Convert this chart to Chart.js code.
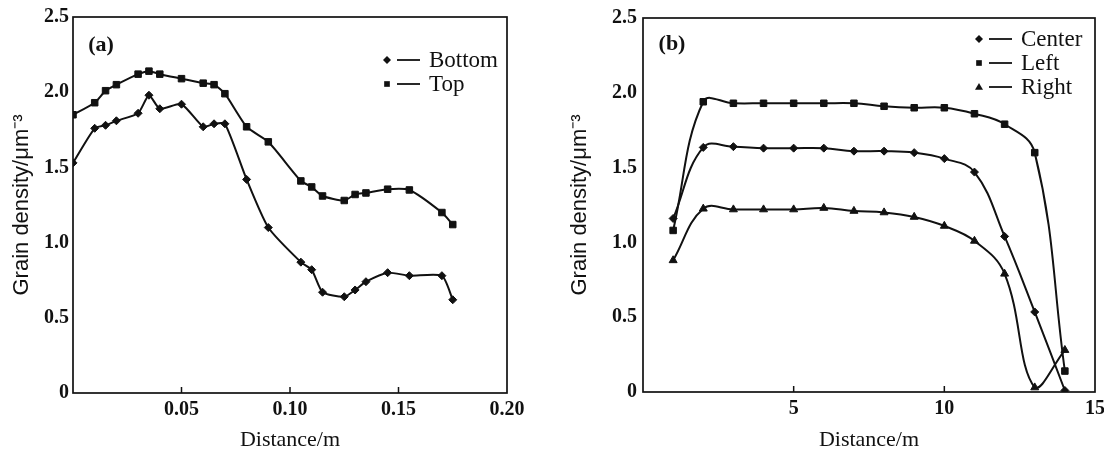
<!DOCTYPE html>
<html>
<head>
<meta charset="utf-8">
<script src="https://cdn.jsdelivr.net/npm/chart.js@4.4.1/dist/chart.umd.min.js"></script>
<style>
  html, body { margin: 0; padding: 0; background: #fff; overflow: hidden; }
  #wrap { position: relative; width: 1104px; height: 454px; overflow: hidden; }
  .panel { position: absolute; top: 0; height: 454px; }
  #panelA { left: 0; width: 550px; }
  #panelB { left: 550px; width: 560px; }
</style>
</head>
<body>
<div id="wrap">
  <div class="panel" id="panelA"><canvas id="chartA"></canvas></div>
  <div class="panel" id="panelB"><canvas id="chartB"></canvas></div>
</div>
<script>
// panel (a): distance along the sample, m
const distA = [0, 0.010, 0.015, 0.020, 0.030, 0.035, 0.040, 0.050, 0.060, 0.065, 0.070, 0.080,
  0.090, 0.105, 0.110, 0.115, 0.125, 0.130, 0.135, 0.145, 0.155, 0.170, 0.175];
const bottomA = [1.53, 1.76, 1.78, 1.81, 1.86, 1.98, 1.89, 1.92, 1.77, 1.79, 1.79, 1.42,
  1.10, 0.87, 0.82, 0.67, 0.64, 0.685, 0.74, 0.80, 0.78, 0.78, 0.62];
const topA = [1.85, 1.93, 2.01, 2.05, 2.12, 2.14, 2.12, 2.09, 2.06, 2.05, 1.99, 1.77,
  1.67, 1.41, 1.37, 1.31, 1.28, 1.32, 1.33, 1.355, 1.35, 1.20, 1.12];

// panel (b): distance, m
const distB = [1, 2, 3, 4, 5, 6, 7, 8, 9, 10, 11, 12, 13, 14];
const centerB = [1.16, 1.635, 1.64, 1.63, 1.63, 1.63, 1.61, 1.61, 1.60, 1.56, 1.47, 1.04, 0.535, 0.01];
const leftB = [1.08, 1.94, 1.93, 1.93, 1.93, 1.93, 1.93, 1.91, 1.90, 1.90, 1.86, 1.79, 1.60, 0.14];
const rightB = [0.88, 1.225, 1.22, 1.22, 1.22, 1.23, 1.21, 1.20, 1.17, 1.11, 1.01, 0.79, 0.03, 0.28];

const yTicks = [0, 0.5, 1.0, 1.5, 2.0, 2.5];
const xMarksA = [0.05, 0.10, 0.15];
const xMarksB = [5, 10];

const ink = '#111';
const serif = '"Liberation Serif", "Times New Roman", serif';
const sans = '"Liberation Sans", Arial, sans-serif';

const toPoints = (xs, ys) => xs.map((x, i) => ({ x: x, y: ys[i] }));

const markerSize = { rect: 4.6, rectRot: 4, triangle: 4.6 };

function series(label, xs, ys, style, tension) {
  return {
    label: label,
    data: toPoints(xs, ys),
    borderColor: ink,
    backgroundColor: ink,
    borderWidth: 2,
    pointStyle: style,
    pointRadius: markerSize[style],
    pointBorderWidth: 1,
    pointBackgroundColor: ink,
    pointBorderColor: ink,
    tension: tension,
    fill: false
  };
}

function drawMarker(ctx, style, r, x, y) {
  ctx.beginPath();
  if (style === 'rect') {
    const s = r / Math.SQRT2;
    ctx.rect(x - s, y - s, 2 * s, 2 * s);
  } else if (style === 'rectRot') {
    ctx.moveTo(x, y - r); ctx.lineTo(x + r, y); ctx.lineTo(x, y + r); ctx.lineTo(x - r, y);
    ctx.closePath();
  } else {
    ctx.moveTo(x, y - r); ctx.lineTo(x + r, y + r * 0.7); ctx.lineTo(x - r, y + r * 0.7);
    ctx.closePath();
  }
  ctx.fill();
}

// box round the plot, inward tick marks, legend and panel tag
const decor = {
  id: 'decor',
  afterDraw(chart, args, opts) {
    const { ctx, chartArea: a } = chart;
    const x = chart.scales.x;
    ctx.save();
    ctx.strokeStyle = ink;
    ctx.fillStyle = ink;
    ctx.lineWidth = 1.7;
    ctx.strokeRect(a.left, a.top, a.right - a.left, a.bottom - a.top);
    ctx.lineWidth = 1.5;
    opts.marks.forEach(v => {
      const px = x.getPixelForValue(v);
      ctx.beginPath();
      ctx.moveTo(px, a.bottom);
      ctx.lineTo(px, a.bottom - 6);
      ctx.stroke();
    });

    ctx.font = 'bold 22px ' + serif;
    ctx.textBaseline = 'middle';
    ctx.textAlign = 'center';
    ctx.fillText(opts.tag, opts.tagX, opts.tagY);

    ctx.font = '23px ' + serif;
    ctx.textAlign = 'left';
    chart.data.datasets.forEach((ds, i) => {
      const y = opts.legendY + i * opts.rowGap;
      drawMarker(ctx, ds.pointStyle, 4, opts.legendX, y);
      ctx.lineWidth = 1.8;
      ctx.beginPath();
      ctx.moveTo(opts.legendX + 10, y);
      ctx.lineTo(opts.legendX + 33, y);
      ctx.stroke();
      ctx.fillText(ds.label, opts.legendX + 42, y + 1);
    });
    ctx.restore();
  }
};

function makeOptions(cfg) {
  return {
    responsive: true,
    maintainAspectRatio: false,
    animation: false,
    layout: { padding: cfg.padding },
    plugins: {
      legend: { display: false },
      tooltip: { enabled: false },
      decor: cfg.decor
    },
    scales: {
      x: {
        type: 'linear',
        min: cfg.xMin,
        max: cfg.xMax,
        grid: { display: false, drawTicks: false },
        border: { display: false },
        ticks: {
          stepSize: cfg.xStep,
          padding: 5,
          color: ink,
          font: { family: serif, size: 20, weight: 'bold' },
          callback: v => (v === 0 ? '' : cfg.xFmt(v))
        },
        title: {
          display: true,
          text: 'Distance/m',
          color: ink,
          font: { family: serif, size: 22 },
          padding: { top: 0, bottom: 1 }
        },
        afterFit: s => { s.height = cfg.xHeight; }
      },
      y: {
        type: 'linear',
        min: 0,
        max: 2.5,
        grid: { display: false, drawTicks: false },
        border: { display: false },
        afterBuildTicks: s => { s.ticks = yTicks.map(v => ({ value: v })); },
        ticks: {
          padding: cfg.yPad,
          color: ink,
          font: { family: serif, size: 20, weight: 'bold' },
          callback: v => (v === 0 ? '0' : v.toFixed(1))
        },
        title: {
          display: true,
          text: 'Grain density/μm⁻³',
          color: ink,
          font: { family: sans, size: 22 },
          padding: { top: cfg.yTitlePad, bottom: 0 }
        },
        afterFit: s => { s.width = cfg.yWidth; }
      }
    }
  };
}

new Chart(document.getElementById('chartA'), {
  type: 'line',
  data: {
    datasets: [
      series('Bottom', distA, bottomA, 'rectRot', 0.2),
      series('Top', distA, topA, 'rect', 0.2)
    ]
  },
  options: makeOptions({
    padding: { top: 17, right: 43, bottom: 0, left: 0 },
    xMin: 0, xMax: 0.2, xStep: 0.05,
    xFmt: v => v.toFixed(2),
    xHeight: 61, yWidth: 73, yPad: 4, yTitlePad: 9,
    decor: { marks: xMarksA, tag: '(a)', tagX: 101, tagY: 45, legendX: 387, legendY: 60, rowGap: 24 }
  }),
  plugins: [decor]
});

new Chart(document.getElementById('chartB'), {
  type: 'line',
  data: {
    datasets: [
      series('Center', distB, centerB, 'rectRot', 0.4),
      series('Left', distB, leftB, 'rect', 0.4),
      series('Right', distB, rightB, 'triangle', 0.4)
    ]
  },
  options: makeOptions({
    padding: { top: 18, right: 0, bottom: 0, left: 0 },
    xMin: 0, xMax: 15, xStep: 5,
    xFmt: v => String(v),
    xHeight: 62, yWidth: 93, yPad: 6, yTitlePad: 17,
    decor: { marks: xMarksB, tag: '(b)', tagX: 122, tagY: 44, legendX: 429, legendY: 39, rowGap: 24 }
  }),
  plugins: [decor]
});
</script>
</body>
</html>
